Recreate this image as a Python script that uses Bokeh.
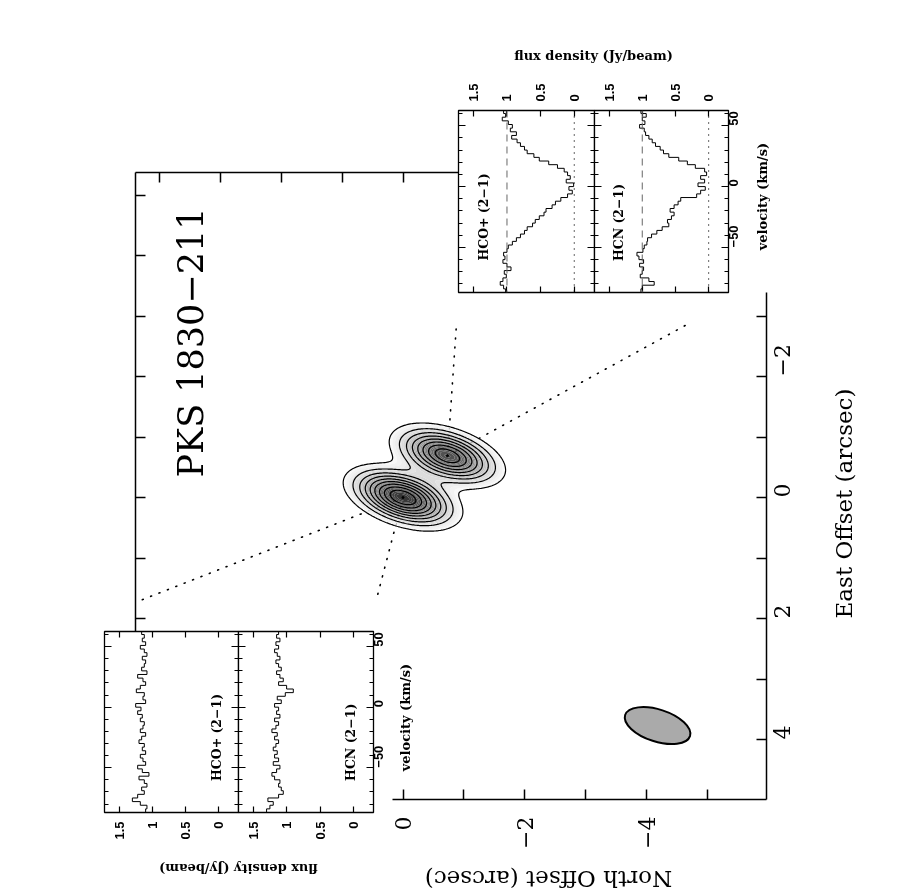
import math
import numpy as np
from bokeh.plotting import figure
from bokeh.models import Range1d, LinearAxis, FixedTicker, Label, Span
from bokeh.embed import file_html
from bokeh.resources import INLINE

# ---------------- data ----------------
# continuum components of PKS 1830-211 (offsets in arcsec)
component_north = [0.0, -0.73]
component_east = [0.0, -0.69]
component_peak = [1.0, 0.88]
contour_levels = [0.1, 0.2, 0.3, 0.4, 0.5, 0.6, 0.7, 0.8, 0.9]

# synthesized beam (FWHM, arcsec) and where it is drawn
beam_fwhm_major = 1.12
beam_fwhm_minor = 0.53
beam_tilt_deg = 18.0
beam_north = -4.18
beam_east = 3.77

# main map ticks, per side (only the visible part of each side is drawn)
top_ticks, top_minor = [0, 2, 4], [1, 3]
left_ticks, left_minor = [-4, -2, 0, 2], [-5, -3, -1, 1]
right_ticks, right_minor = [-2, 0, 2, 4], [-3, -1, 1, 3]
bottom_ticks, bottom_minor = [-4, -2, 0], [-5, -3, -1]
main_labels = {-4: "\u22124", -2: "\u22122", 0: "0", 2: "2", 4: "4"}

# dotted lines of sight: component -> inset
sight_from_north = [0.0, 0.0, -0.73, -0.73]
sight_from_east = [0.0, 0.0, -0.69, -0.69]
sight_to_north = [4.31, 0.44, -0.88, -4.72]
sight_to_east = [1.70, 1.70, -2.89, -2.89]

# spectra (velocity channel centres, km/s; channel width 3 km/s)
channel_width = 3.0
velocity = [-85.5, -82.5, -79.5, -76.5, -73.5, -70.5, -67.5, -64.5, -61.5, -58.5,
            -55.5, -52.5, -49.5, -46.5, -43.5, -40.5, -37.5, -34.5, -31.5, -28.5,
            -25.5, -22.5, -19.5, -16.5, -13.5, -10.5, -7.5, -4.5, -1.5, 1.5,
            4.5, 7.5, 10.5, 13.5, 16.5, 19.5, 22.5, 25.5, 28.5, 31.5,
            34.5, 37.5, 40.5, 43.5, 46.5, 49.5, 52.5, 55.5, 58.5, 61.5]

sw_hcop = [1.02, 1.05, 1.10, 1.06, 1.01, 1.04, 0.94, 1.00, 1.06, 1.03,
           1.05, 1.00, 0.98, 0.92, 0.86, 0.80, 0.74, 0.70, 0.62, 0.58,
           0.52, 0.45, 0.42, 0.33, 0.28, 0.20, 0.10, 0.03, 0.08, 0.01,
           0.12, 0.06, 0.10, 0.15, 0.25, 0.38, 0.52, 0.60, 0.70, 0.74,
           0.80, 0.85, 0.93, 0.86, 0.95, 0.92, 0.98, 1.07, 1.02, 1.05]

sw_hcn = [1.02, 1.00, 0.82, 0.90, 1.03, 1.00, 0.98, 1.04, 0.98, 1.05,
          1.08, 0.99, 0.97, 0.93, 0.92, 0.86, 0.78, 0.70, 0.60, 0.62,
          0.56, 0.52, 0.58, 0.52, 0.46, 0.42, 0.18, 0.12, 0.05, 0.16,
          0.06, 0.12, 0.03, 0.06, 0.20, 0.32, 0.45, 0.60, 0.68, 0.73,
          0.80, 0.85, 0.90, 0.95, 0.97, 1.04, 0.96, 1.00, 0.94, 1.02]

ne_hcop = [1.10, 1.08, 1.18, 1.30, 1.22, 1.12, 1.16, 1.08, 1.12, 1.20,
           1.05, 1.15, 1.22, 1.10, 1.14, 1.18, 1.10, 1.15, 1.12, 1.20,
           1.16, 1.10, 1.18, 1.14, 1.12, 1.18, 1.15, 1.22, 1.17, 1.25,
           1.10, 1.14, 1.12, 1.24, 1.18, 1.10, 1.14, 1.22, 1.08, 1.16,
           1.12, 1.10, 1.15, 1.08, 1.12, 1.18, 1.10, 1.15, 1.12, 1.16]

ne_hcn = [1.30, 1.25, 1.20, 1.28, 1.12, 1.05, 1.08, 1.12, 1.10, 1.18,
          1.22, 1.15, 1.10, 1.20, 1.12, 1.18, 1.14, 1.20, 1.16, 1.12,
          1.18, 1.14, 1.22, 1.16, 1.12, 1.18, 1.10, 1.15, 1.12, 1.18,
          1.08, 1.14, 1.02, 0.90, 1.00, 1.12, 1.05, 1.10, 1.15, 1.08,
          1.12, 1.16, 1.10, 1.14, 1.18, 1.12, 1.16, 1.10, 1.15, 1.12]

flux_ticks = [0, 0.5, 1, 1.5]
flux_labels = {0: "0", 0.5: "0.5", 1: "1", 1.5: "1.5"}
vel_ticks = [-50, 0, 50]
vel_minor_ticks = [-80, -70, -60, -40, -30, -20, -10, 10, 20, 30, 40, 60]
vel_labels = {-50: "\u221250", 0: "0", 50: "50"}

# ---------------- styling helpers ----------------
SERIF = "DejaVu Serif"
SANS = "Liberation Sans"


def n_of(px):
    return (402.5 - px) / 60.9


def e_of(py):
    return (py - 497.0) / 60.5


def place(fig, left, top):
    fig.styles = {"position": "fixed", "left": "%dpx" % left, "top": "%dpx" % top,
                  "width": "%dpx" % fig.width, "height": "%dpx" % fig.height}


def blank(ticks):
    return {t: "" for t in ticks}


def main_axis(ticks, minor, bounds, show, orientation, standoff):
    return LinearAxis(ticker=FixedTicker(ticks=ticks, minor_ticks=minor),
                      bounds=bounds, major_tick_in=10, major_tick_out=0,
                      minor_tick_in=10, minor_tick_out=0,
                      axis_line_width=1.5, major_tick_line_width=1.5, minor_tick_line_width=1.5,
                      major_label_overrides=(main_labels if show else blank(ticks)),
                      major_label_standoff=standoff, major_label_orientation=orientation,
                      major_label_text_font=SERIF, major_label_text_font_size="22px",
                      major_label_text_color="black")


# ---------------- main map ----------------
# frame occupies page x 135..766, y 172..799
MB_L, MB_R, MB_T, MB_B = 127, 100, 164, 76
main = figure(width=MB_L + 631 + MB_R, height=MB_T + 627 + MB_B, title=None,
              x_range=Range1d(n_of(135), n_of(766)), y_range=Range1d(e_of(799), e_of(172)),
              x_axis_location=None, y_axis_location=None,
              output_backend="svg", toolbar_location=None,
              min_border_left=MB_L, min_border_right=MB_R, min_border_top=MB_T, min_border_bottom=MB_B)
main.grid.visible = False
main.outline_line_color = None
main.background_fill_color = "white"
main.border_fill_color = "white"
place(main, 8, 8)

main.add_layout(main_axis(top_ticks, top_minor, (n_of(458), n_of(135)), False, "vertical", 0), "above")
main.add_layout(main_axis(left_ticks, left_minor, (e_of(172), e_of(631)), False, "horizontal", 0), "left")
main.add_layout(main_axis(right_ticks, right_minor, (e_of(292), e_of(799)), True, math.pi / 2, 15), "right")
main.add_layout(main_axis(bottom_ticks, bottom_minor, (n_of(766), n_of(392)), True, math.pi / 2, 17), "below")

# dotted sight lines (under the map)
main.segment(x0=sight_from_north, y0=sight_from_east, x1=sight_to_north, y1=sight_to_east,
             line_color="black", line_width=1.6, line_dash="1 8", line_cap="round")

# map model: point components convolved with the beam
gn = np.linspace(-2.8, 1.9, 236)
ge = np.linspace(-2.4, 2.0, 221)
NN, EE = np.meshgrid(gn, ge)
t = math.radians(beam_tilt_deg)
sa = beam_fwhm_major / 2.3548
sb = beam_fwhm_minor / 2.3548
z = np.zeros_like(NN)
for cn, ce, pk in zip(component_north, component_east, component_peak):
    dn = NN - cn
    de = EE - ce
    u = -dn * math.cos(t) + de * math.sin(t)
    v = dn * math.sin(t) + de * math.cos(t)
    z += pk * np.exp(-0.5 * ((u / sa) ** 2 + (v / sb) ** 2))

shade_levels = list(np.linspace(contour_levels[0], 1.0, 37)) + [1.4]
shade_colors = []
for lv in shade_levels[:-1]:
    g = int(round(248 - (lv - contour_levels[0]) / 0.9 * 200))
    shade_colors.append("#%02x%02x%02x" % (g, g, g))
main.contour(gn, ge, z, shade_levels, fill_color=shade_colors, line_color=None)
main.contour(gn, ge, z, contour_levels, fill_color=None, line_color="black", line_width=1.2)
main.scatter(component_north, component_east, size=2, color="black")

main.ellipse(x=[beam_north], y=[beam_east], width=beam_fwhm_major, height=beam_fwhm_minor,
             angle=-t, fill_color="#aaaaaa", line_color="black", line_width=2)

main.add_layout(Label(x=n_of(190), y=e_of(342), text="PKS 1830\u2212211", angle=math.pi / 2,
                      text_align="center", text_baseline="middle", text_font=SERIF,
                      text_font_size="35px", text_color="black"))


# free-standing texts outside the frames: each in its own transparent box
def text_box(text, cx, cy, w, h, angle, size, style="normal"):
    f = figure(width=w, height=h, title=None,
               x_range=Range1d(0, 1), y_range=Range1d(0, 1),
               x_axis_location=None, y_axis_location=None,
               output_backend="svg", toolbar_location=None, min_border=0,
               min_border_left=0, min_border_right=0, min_border_top=0, min_border_bottom=0)
    f.grid.visible = False
    f.outline_line_color = None
    f.background_fill_color = None
    f.border_fill_color = None
    f.add_layout(Label(x=0.5, y=0.5, text=text, angle=angle, text_align="center",
                       text_baseline="middle", text_font=SERIF, text_font_size=size,
                       text_font_style=style, text_color="black"))
    place(f, int(round(cx - w / 2)), int(round(cy - h / 2)))
    return f


# ---------------- spectrum insets ----------------
def flux_axis(show):
    return LinearAxis(ticker=FixedTicker(ticks=flux_ticks, minor_ticks=[]),
                      major_tick_in=6, major_tick_out=0, minor_tick_in=0, minor_tick_out=0,
                      axis_line_color=None, major_tick_line_width=1.2,
                      major_label_overrides=(flux_labels if show else blank(flux_ticks)),
                      major_label_orientation=math.pi / 2,
                      major_label_standoff=9 if show else 0,
                      major_label_text_font=SANS, major_label_text_font_style="bold",
                      major_label_text_font_size="13px", major_label_text_color="black")


def vel_axis(show):
    return LinearAxis(ticker=FixedTicker(ticks=vel_ticks, minor_ticks=vel_minor_ticks),
                      major_tick_in=7, major_tick_out=0, minor_tick_in=4, minor_tick_out=0,
                      axis_line_color=None, major_tick_line_width=1.2, minor_tick_line_width=1.2,
                      major_label_overrides=(vel_labels if show else blank(vel_ticks)),
                      major_label_orientation=(math.pi / 2 if show else "horizontal"),
                      major_label_standoff=5 if show else 0,
                      major_label_text_font=SANS, major_label_text_font_style="bold",
                      major_label_text_font_size="13px", major_label_text_color="black")


def panel(flux, label, label_xy, labels_above, vel_labels_right, frame, borders, guides):
    fl, ft, fr, fb = frame
    bl, bt, br, bb = borders
    f = figure(width=bl + (fr - fl) + br, height=bt + (fb - ft) + bb, title=None,
               x_range=Range1d(1.72, -0.30), y_range=Range1d(-87, 62.5),
               x_axis_location=None, y_axis_location=None,
               output_backend="svg", toolbar_location=None,
               min_border_left=bl, min_border_right=br, min_border_top=bt, min_border_bottom=bb)
    f.grid.visible = False
    f.border_fill_color = None
    f.background_fill_color = "white"
    f.outline_line_color = "black"
    f.outline_line_width = 1.3
    f.add_layout(flux_axis(labels_above), "above")
    f.add_layout(flux_axis(not labels_above), "below")
    f.add_layout(vel_axis(False), "left")
    f.add_layout(vel_axis(vel_labels_right), "right")
    if guides:
        f.add_layout(Span(location=1, dimension="height", line_color="#666666",
                          line_width=1, line_dash="7 5"))
        f.add_layout(Span(location=0, dimension="height", line_color="black",
                          line_width=1.2, line_dash="1 5"))
    xs, ys = [], []
    h = channel_width / 2.0
    for vc, fv in zip(velocity, flux):
        xs += [fv, fv]
        ys += [vc - h, vc + h]
    f.line(xs, ys, line_color="black", line_width=1)
    f.add_layout(Label(x=label_xy[0], y=label_xy[1], text=label, angle=math.pi / 2,
                       text_align="center", text_baseline="middle", text_font=SERIF,
                       text_font_size="12.5px", text_font_style="bold", text_color="black"))
    place(f, fl - bl, ft - bt)
    return f


ra = panel(sw_hcop, "HCO+ (2\u22121)", (1.35, -25), True, False,
           (458, 110, 594, 292), (12, 44, 12, 12), True)
rb = panel(sw_hcn, "HCN (2\u22121)", (1.36, -29.5), True, True,
           (594, 110, 728, 292), (12, 44, 36, 12), True)
la = panel(ne_hcop, "HCO+ (2\u22121)", (0.03, -25), False, False,
           (104, 631, 238, 812), (12, 12, 12, 44), False)
lb = panel(ne_hcn, "HCN (2\u22121)", (0.05, -29), False, True,
           (238, 631, 373, 812), (12, 12, 32, 44), False)

labels = [
    text_box("East Offset (arcsec)", 843, 503, 36, 270, math.pi / 2, "23px"),
    text_box("North Offset (arcsec)", 548, 878, 290, 30, math.pi, "23px"),
    text_box("flux density (Jy/beam)", 593, 55, 210, 22, 0.0, "13px", "bold"),
    text_box("flux density (Jy/beam)", 238, 868, 210, 22, math.pi, "13px", "bold"),
    text_box("velocity (km/s)", 762, 196, 22, 150, math.pi / 2, "13px", "bold"),
    text_box("velocity (km/s)", 405, 717, 22, 150, math.pi / 2, "13px", "bold"),
]

# every figure is its own root, placed at fixed page coordinates
p = [main, ra, rb, la, lb] + labels

open("out.html", "w").write(file_html(p, INLINE))
